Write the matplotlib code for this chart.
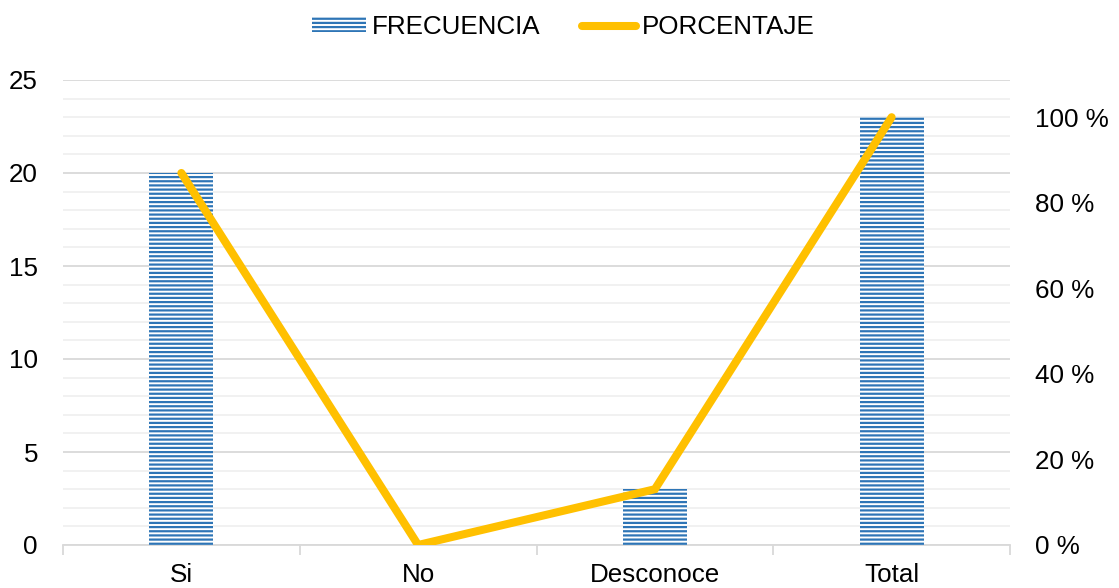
import matplotlib
matplotlib.use("Agg")
import matplotlib.pyplot as plt
from matplotlib.ticker import MultipleLocator, FixedLocator

plt.rcParams['font.family'] = ['Liberation Sans', 'DejaVu Sans']
plt.rcParams['hatch.linewidth'] = 1.6

categorias = ["Si", "No", "Desconoce", "Total"]
frecuencia = [20, 0, 3, 23]
porcentaje = [86.96, 0.0, 13.04, 100.0]
ticks_pct = [0, 20, 40, 60, 80, 100]

azul = "#2E75B6"
amarillo = "#FFC000"
gris_mayor = "#D9D9D9"
gris_menor = "#F0F0F0"
fs = 18.7

fig = plt.figure(figsize=(11.19, 5.88), dpi=100)
ax = fig.add_axes([63 / 1119, 1 - 545 / 588, (1010 - 63) / 1119, (545 - 80) / 588])
x = list(range(len(categorias)))

ax.bar(x, frecuencia, width=0.27, color="white", edgecolor=azul,
       hatch="----", linewidth=0, zorder=3, label="FRECUENCIA")

ax.set_xlim(-0.5, len(categorias) - 0.5)
ax.set_ylim(0, 25)
ax.yaxis.set_major_locator(MultipleLocator(5))
ax.yaxis.set_minor_locator(MultipleLocator(1))
ax.grid(which="major", axis="y", color=gris_mayor, linewidth=1.3, zorder=0)
ax.grid(which="minor", axis="y", color=gris_menor, linewidth=1.3, zorder=0)
ax.set_axisbelow(True)

ax.set_xticks(x)
ax.set_xticklabels(categorias, fontsize=fs)
ax.xaxis.set_minor_locator(FixedLocator([i - 0.5 for i in range(len(categorias) + 1)]))
ax.tick_params(axis="x", which="major", length=0, pad=13)
ax.tick_params(axis="x", which="minor", length=7, color=gris_mayor, width=1.3)
ax.tick_params(axis="y", which="both", length=0, pad=18, labelsize=fs)

for s in ["top", "left", "right"]:
    ax.spines[s].set_visible(False)
ax.spines["bottom"].set_color(gris_mayor)
ax.spines["bottom"].set_linewidth(1.3)

ax2 = ax.twinx()
ax2.plot(x, porcentaje, color=amarillo, linewidth=5.8, solid_capstyle="round",
         solid_joinstyle="miter", zorder=4, label="PORCENTAJE")
ax2.set_ylim(0, 100 * 25 / 23)
ax2.set_yticks(ticks_pct)
ax2.set_yticklabels([f"{t} %" for t in ticks_pct])
ax2.tick_params(axis="y", length=0, pad=18, labelsize=fs)
for s in ["top", "left", "right", "bottom"]:
    ax2.spines[s].set_visible(False)

h1, l1 = ax.get_legend_handles_labels()
h2, l2 = ax2.get_legend_handles_labels()
fig.legend(h1 + h2, l1 + l2, loc="center", bbox_to_anchor=(563 / 1119, 1 - 27 / 588),
           ncol=2, frameon=False, fontsize=fs, handlelength=2.1, handleheight=0.5,
           handletextpad=0.2, columnspacing=1.6)

fig.savefig("out.png", dpi=100)
